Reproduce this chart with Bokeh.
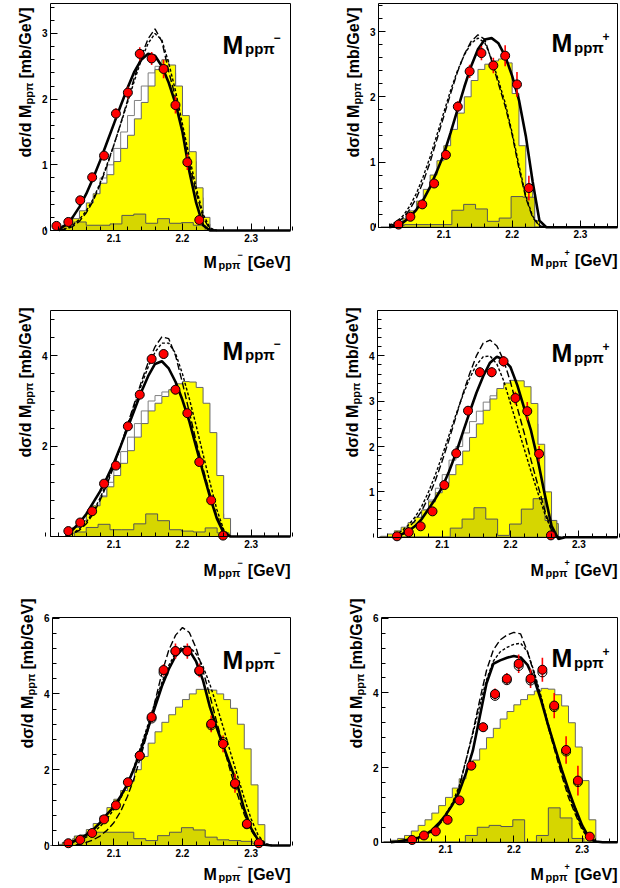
import math
import numpy as np
from bokeh.plotting import figure
from bokeh.layouts import column, row
from bokeh.models import FixedTicker, Label, LinearAxis
from bokeh.embed import file_html
from bokeh.resources import INLINE

FONT = "Liberation Sans"
YELLOW = "#ffff00"
OLIVE = "#d6d600"

# ---------------- shared data binning (GeV) ----------------
DATA_EDGES = [2.0078, 2.0251, 2.0425, 2.0598, 2.0771, 2.0945, 2.1118, 2.1291, 2.1465, 2.1638,
              2.1811, 2.1985, 2.2158, 2.2331, 2.2505, 2.2678, 2.2851, 2.3025, 2.3198, 2.3371]
DATA_X = [2.0165, 2.0338, 2.0511, 2.0685, 2.0858, 2.1031, 2.1205, 2.1378, 2.1551, 2.1725,
          2.1898, 2.2071, 2.2245, 2.2418, 2.2591, 2.2765, 2.2938, 2.3112]
X_TICKS = [2.1, 2.2, 2.3]

# ---------------- panel 1 : M_pp pi-  (row 1) ----------------
P1_CURVE_X0 = 2.02
P1_SOLID = [0.02, 0.08, 0.2, 0.36, 0.56, 0.8, 1.06, 1.34, 1.62, 1.9, 2.17, 2.42, 2.6, 2.69, 2.66, 2.5, 2.25, 1.93, 1.5, 0.9, 0.42, 0.08, 0.0, 0.0]
P1_DASHED = [0.0, 0.02, 0.06, 0.14, 0.27, 0.45, 0.7, 0.98, 1.3, 1.63, 1.98, 2.33, 2.65, 2.92, 3.07, 2.88, 2.42, 2.02, 1.5, 1.03, 0.58, 0.2, 0.02, 0.0]
P1_DOTTED = [0.0, 0.03, 0.08, 0.17, 0.3, 0.48, 0.72, 1.0, 1.3, 1.62, 1.95, 2.28, 2.6, 2.85, 3.0, 2.9, 2.55, 2.12, 1.62, 1.12, 0.65, 0.25, 0.04, 0.0]
P1_YEL_X0 = 2.02
P1_YEL = [0.02, 0.08, 0.18, 0.3, 0.42, 0.56, 0.72, 0.85, 1.05, 1.25, 1.45, 1.7, 1.95, 2.2, 2.45, 2.6, 2.52, 2.2, 1.75, 1.2, 0.65, 0.2]
P1_H2_X0 = 2.02
P1_H2 = [0.0, 0.04, 0.1, 0.2, 0.33, 0.5, 0.8, 1.0, 1.25, 1.5, 1.75, 1.98, 2.2, 2.4, 2.5, 2.5, 2.4, 2.1, 1.6, 1.05, 0.5, 0.1]
P1_OLIVE = [0.0, 0.08, 0.13, 0.08, 0.08, 0.1, 0.23, 0.25, 0.11, 0.18, 0.11, 0.12, 0.08, 0.0]
P1_PT_K0 = 0
P1_PTS = [0.07, 0.13, 0.46, 0.81, 1.14, 1.78, 2.10, 2.69, 2.62, 2.46, 1.91, 1.04, 0.16]
P1_ERR = [0.03, 0.03, 0.05, 0.06, 0.07, 0.08, 0.09, 0.1, 0.1, 0.14, 0.13, 0.12, 0.05]

# ---------------- panel 2 : M_pp pi+  (row 1) ----------------
P2_CURVE_X0 = 2.02
P2_SOLID = [0.0, 0.02, 0.07, 0.15, 0.27, 0.42, 0.62, 0.86, 1.12, 1.45, 1.8, 2.15, 2.47, 2.73, 2.88, 2.9, 2.82, 2.62, 2.32, 1.95, 1.4, 0.7, 0.1, 0.0]
P2_DASHED = [0.02, 0.06, 0.14, 0.27, 0.45, 0.7, 1.0, 1.35, 1.7, 2.05, 2.38, 2.65, 2.85, 2.95, 2.88, 2.55, 2.2, 1.85, 1.42, 0.9, 0.45, 0.15, 0.02, 0.0]
P2_DOTTED = [0.03, 0.08, 0.17, 0.32, 0.52, 0.78, 1.08, 1.42, 1.76, 2.1, 2.4, 2.64, 2.82, 2.9, 2.83, 2.58, 2.25, 1.9, 1.45, 0.95, 0.48, 0.17, 0.03, 0.0]
P2_YEL_X0 = 2.02
P2_YEL = [0.0, 0.05, 0.13, 0.25, 0.4, 0.58, 0.8, 1.02, 1.25, 1.5, 1.75, 2.0, 2.25, 2.42, 2.5, 2.55, 2.58, 2.52, 2.05, 1.25, 0.55, 0.1]
P2_OLIVE = [0.0, 0.03, 0.04, 0.04, 0.04, 0.04, 0.26, 0.35, 0.28, 0.09, 0.14, 0.47, 0.46, 0.0]
P2_PT_K0 = 1
P2_PTS = [0.04, 0.16, 0.35, 0.67, 1.11, 1.85, 2.39, 2.67, 2.48, 2.63, 2.19, 0.60]
P2_ERR = [0.02, 0.03, 0.04, 0.05, 0.07, 0.08, 0.1, 0.11, 0.12, 0.16, 0.19, 0.19]

# ---------------- panel 3 : M_pp pi-  (row 2) ----------------
P3_CURVE_X0 = 2.03
P3_SOLID = [0.05, 0.15, 0.3, 0.5, 0.75, 1.0, 1.3, 1.62, 2.0, 2.4, 2.8, 3.2, 3.55, 3.82, 3.88, 3.72, 3.42, 3.02, 2.55, 1.98, 1.42, 0.88, 0.4, 0.08, 0.0]
P3_DASHED = [0.02, 0.05, 0.14, 0.28, 0.5, 0.8, 1.15, 1.55, 2.0, 2.48, 2.95, 3.42, 3.85, 4.2, 4.42, 4.38, 4.0, 3.4, 2.75, 2.1, 1.5, 0.95, 0.45, 0.12, 0.0]
P3_DOTTED = [0.03, 0.07, 0.17, 0.32, 0.55, 0.85, 1.2, 1.58, 2.0, 2.45, 2.9, 3.35, 3.75, 4.08, 4.28, 4.28, 4.05, 3.6, 3.05, 2.45, 1.82, 1.2, 0.6, 0.15, 0.0]
P3_YEL_X0 = 2.02
P3_YEL = [0.0, 0.08, 0.2, 0.35, 0.5, 0.68, 0.88, 1.1, 1.35, 1.62, 1.9, 2.2, 2.5, 2.78, 2.95, 3.1, 3.25, 3.38, 3.43, 3.42, 3.3, 2.95, 2.3, 1.35, 0.4]
P3_H2_X0 = 2.02
P3_H2 = [0.0, 0.06, 0.16, 0.3, 0.46, 0.66, 0.9, 1.2, 1.55, 1.88, 2.2, 2.5, 2.78, 3.0, 3.12, 3.2, 3.22, 3.2, 3.1, 2.9, 2.5, 1.9, 1.2, 0.5, 0.1]
P3_OLIVE = [0.0, 0.0, 0.1, 0.2, 0.27, 0.15, 0.15, 0.28, 0.5, 0.35, 0.15, 0.12, 0.1, 0.19, 0.08, 0.0]
P3_PT_K0 = 1
P3_PTS = [0.12, 0.31, 0.56, 1.17, 1.57, 2.44, 3.14, 3.93, 4.04, 3.25, 2.73, 1.65, 0.80, 0.02]
P3_ERR = [0.03, 0.04, 0.05, 0.06, 0.07, 0.08, 0.09, 0.1, 0.1, 0.1, 0.1, 0.09, 0.07, 0.03]

# ---------------- panel 4 : M_pp pi+  (row 2) ----------------
P4_CURVE_X0 = 2.03
P4_SOLID = [0.02, 0.06, 0.13, 0.24, 0.4, 0.62, 0.85, 1.1, 1.45, 1.85, 2.3, 2.75, 3.18, 3.55, 3.85, 3.98, 3.92, 3.75, 3.35, 2.85, 2.35, 1.7, 0.95, 0.25, -0.04, 0.0]
P4_DASHED = [0.03, 0.1, 0.2, 0.36, 0.58, 0.88, 1.25, 1.68, 2.15, 2.65, 3.15, 3.6, 4.0, 4.28, 4.35, 4.22, 3.9, 3.42, 2.85, 2.3, 1.7, 1.15, 0.6, 0.15, 0.0, 0.0]
P4_DOTTED = [0.05, 0.13, 0.26, 0.44, 0.68, 1.0, 1.38, 1.8, 2.25, 2.7, 3.12, 3.5, 3.8, 3.98, 4.0, 3.82, 3.45, 2.95, 2.45, 1.95, 1.45, 0.98, 0.52, 0.15, 0.0, 0.0]
P4_YEL_X0 = 2.01
P4_YEL = [0.02, 0.07, 0.14, 0.22, 0.32, 0.44, 0.6, 0.78, 0.98, 1.18, 1.38, 1.6, 1.9, 2.2, 2.5, 2.8, 3.05, 3.28, 3.4, 3.46, 3.45, 3.32, 2.95, 2.05, 1.0, 0.3]
P4_H2_X0 = 2.01
P4_H2 = [0.01, 0.05, 0.1, 0.18, 0.28, 0.42, 0.6, 0.82, 1.08, 1.38, 1.7, 2.0, 2.3, 2.55, 2.78, 2.98, 3.12, 3.2, 3.22, 3.2, 3.1, 2.9, 2.5, 1.8, 0.9, 0.25]
P4_OLIVE = [0.0, 0.0, 0.0, 0.0, 0.0, 0.0, 0.2, 0.4, 0.65, 0.4, 0.04, 0.29, 0.62, 0.85, 0.37, 0.0]
P4_PT_K0 = 1
P4_PTS = [0.02, 0.11, 0.24, 0.57, 1.15, 1.85, 2.79, 3.64, 3.64, 3.88, 3.07, 2.78, 1.84, 0.04]
P4_ERR = [0.02, 0.03, 0.04, 0.05, 0.07, 0.08, 0.1, 0.11, 0.11, 0.12, 0.14, 0.2, 0.17, 0.03]

# ---------------- panel 5 : M_pp pi-  (row 3) ----------------
P5_CURVE_X0 = 2.03
P5_SOLID = [0.05, 0.1, 0.18, 0.28, 0.42, 0.6, 0.82, 1.02, 1.3, 1.62, 2.05, 2.55, 3.1, 3.65, 4.2, 4.65, 5.0, 5.18, 5.15, 4.85, 4.35, 3.65, 3.1, 2.6, 2.1, 1.6, 0.95, 0.45, 0.15, 0.02, 0.0]
P5_DASHED = [0.0, 0.0, 0.03, 0.08, 0.15, 0.25, 0.4, 0.6, 0.9, 1.3, 1.8, 2.4, 3.05, 3.8, 4.55, 5.15, 5.55, 5.75, 5.62, 5.2, 4.6, 3.95, 3.25, 2.6, 1.95, 1.35, 0.82, 0.4, 0.12, 0.02, 0.0]
P5_DOTTED = [0.04, 0.08, 0.14, 0.22, 0.34, 0.5, 0.7, 0.95, 1.25, 1.62, 2.1, 2.65, 3.2, 3.78, 4.3, 4.75, 5.08, 5.25, 5.25, 5.05, 4.72, 4.25, 3.68, 3.08, 2.45, 1.85, 1.25, 0.7, 0.28, 0.06, 0.0]
P5_YEL_X0 = 2.02
P5_YEL = [0.03, 0.1, 0.18, 0.28, 0.42, 0.58, 0.78, 1.0, 1.22, 1.45, 1.7, 2.0, 2.35, 2.7, 3.0, 3.25, 3.45, 3.65, 3.85, 4.0, 4.12, 4.12, 4.1, 4.0, 3.85, 3.62, 3.2, 2.55, 1.6, 0.55]
P5_OLIVE = [0.0, 0.08, 0.25, 0.35, 0.35, 0.35, 0.35, 0.18, 0.13, 0.26, 0.35, 0.47, 0.41, 0.22, 0.15, 0.13, 0.11, 0.05, 0.0]
P5_PT_K0 = 1
P5_PTS = [0.06, 0.15, 0.33, 0.69, 1.06, 1.67, 2.37, 3.39, 4.63, 5.13, 5.13, 4.62, 3.21, 2.68, 1.64, 0.57, 0.06]
P5_ERR = [0.03, 0.04, 0.05, 0.06, 0.08, 0.1, 0.12, 0.14, 0.15, 0.2, 0.2, 0.18, 0.22, 0.22, 0.25, 0.1, 0.03]
P5_OPEN_K0 = 7
P5_OPEN = [2.37, 3.35, 4.56, 5.12, 5.12, 4.6, 3.17, 2.73, 1.62, 0.56]

# ---------------- panel 6 : M_pp pi+  (row 3) ----------------
P6_CURVE_X0 = 2.02
P6_SOLID = [0.0, 0.02, 0.05, 0.08, 0.12, 0.2, 0.32, 0.5, 0.72, 1.0, 1.35, 1.85, 2.45, 3.35, 4.25, 4.78, 4.87, 4.94, 4.99, 4.95, 4.75, 4.35, 3.8, 3.15, 2.55, 1.95, 1.4, 0.9, 0.45, 0.12, 0.02, 0.0]
P6_DASHED = [0.0, 0.01, 0.03, 0.05, 0.1, 0.17, 0.28, 0.45, 0.68, 1.0, 1.45, 2.2, 2.95, 3.8, 4.6, 5.15, 5.42, 5.55, 5.62, 5.58, 5.1, 4.5, 3.85, 3.1, 2.45, 1.8, 1.2, 0.75, 0.33, 0.08, 0.0, 0.0]
P6_DOTTED = [0.0, 0.02, 0.04, 0.06, 0.12, 0.2, 0.32, 0.5, 0.74, 1.05, 1.5, 2.2, 2.9, 3.65, 4.35, 4.85, 5.1, 5.22, 5.3, 5.33, 5.1, 4.55, 3.9, 3.2, 2.55, 1.9, 1.3, 0.8, 0.38, 0.1, 0.0, 0.0]
P6_YEL_X0 = 2.01
P6_YEL = [0.01, 0.05, 0.1, 0.18, 0.3, 0.45, 0.6, 0.78, 0.98, 1.2, 1.45, 1.7, 1.95, 2.2, 2.5, 2.8, 3.05, 3.3, 3.5, 3.68, 3.82, 3.95, 4.05, 4.12, 4.1, 3.95, 3.65, 3.2, 2.55, 1.65, 0.6]
P6_OLIVE = [0.0, 0.0, 0.0, 0.0, 0.0, 0.0, 0.0, 0.18, 0.4, 0.45, 0.42, 0.6, 0.0, 0.18, 0.92, 0.65, 0.1, 0.0, 0.0]
P6_PT_K0 = 2
P6_PTS = [0.06, 0.18, 0.29, 0.60, 1.12, 2.05, 3.08, 3.97, 4.38, 4.78, 4.38, 4.62, 3.66, 2.47, 1.65, 0.15]
P6_ERR = [0.03, 0.04, 0.05, 0.06, 0.08, 0.1, 0.12, 0.15, 0.15, 0.25, 0.25, 0.32, 0.34, 0.37, 0.4, 0.05]
P6_OPEN_K0 = 9
P6_OPEN = [3.92, 4.34, 4.72, 4.33, 4.55, 3.62, 2.43, 1.61]

# ---------------- layout (page pixels) ----------------
# fig: page box of the figure; cal: pixel calibration (x of 2.1 GeV, px per GeV, y of zero, px per unit)
# vis: left, right, top of the drawn frame box
PANELS = [
    dict(col=0, fig=(0, 0, 310, 290), cal=(113.3, 686.7, 230.0, 65.67), vis=(50, 290, 3),
         yt=[0, 1, 2, 3], ymt=0.2, charge="\u2212", x0=P1_CURVE_X0, solid=P1_SOLID, dashed=P1_DASHED, dotted=P1_DOTTED,
         yx0=P1_YEL_X0, yel=P1_YEL, hx0=P1_H2_X0, h2=P1_H2, olive=P1_OLIVE, k0=P1_PT_K0, pts=P1_PTS, err=P1_ERR,
         ok0=None, opens=None, ystart=157, xlab=262),
    dict(col=1, fig=(310, 0, 310, 290), cal=(443.3, 683.3, 226.7, 65.2), vis=(378, 617, 3),
         yt=[0, 1, 2, 3], ymt=0.2, charge="+", x0=P2_CURVE_X0, solid=P2_SOLID, dashed=P2_DASHED, dotted=P2_DOTTED,
         yx0=P2_YEL_X0, yel=P2_YEL, hx0=None, h2=None, olive=P2_OLIVE, k0=P2_PT_K0, pts=P2_PTS, err=P2_ERR,
         ok0=None, opens=None, ystart=157, xlab=260),
    dict(col=0, fig=(0, 290, 310, 290), cal=(113.3, 686.7, 536.0, 45.17), vis=(50, 290, 310),
         yt=[2, 4], ymt=0.4, charge="\u2212", x0=P3_CURVE_X0, solid=P3_SOLID, dashed=P3_DASHED, dotted=P3_DOTTED,
         yx0=P3_YEL_X0, yel=P3_YEL, hx0=P3_H2_X0, h2=P3_H2, olive=P3_OLIVE, k0=P3_PT_K0, pts=P3_PTS, err=P3_ERR,
         ok0=None, opens=None, ystart=457, xlab=570),
    dict(col=1, fig=(310, 290, 310, 290), cal=(441.7, 683.3, 536.7, 45.33), vis=(377, 617, 310),
         yt=[1, 2, 3, 4], ymt=0.2, charge="+", x0=P4_CURVE_X0, solid=P4_SOLID, dashed=P4_DASHED, dotted=P4_DOTTED,
         yx0=P4_YEL_X0, yel=P4_YEL, hx0=P4_H2_X0, h2=P4_H2, olive=P4_OLIVE, k0=P4_PT_K0, pts=P4_PTS, err=P4_ERR,
         ok0=None, opens=None, ystart=457, xlab=570),
    dict(col=0, fig=(0, 580, 310, 308), cal=(113.3, 686.7, 845.0, 37.9), vis=(52, 290, 617),
         yt=[0, 2, 4, 6], ymt=0.4, charge="\u2212", x0=P5_CURVE_X0, solid=P5_SOLID, dashed=P5_DASHED, dotted=P5_DOTTED,
         yx0=P5_YEL_X0, yel=P5_YEL, hx0=None, h2=None, olive=P5_OLIVE, k0=P5_PT_K0, pts=P5_PTS, err=P5_ERR,
         ok0=P5_OPEN_K0, opens=P5_OPEN, ystart=748, xlab=874),
    dict(col=1, fig=(310, 580, 310, 308), cal=(445.0, 683.3, 841.7, 37.33), vis=(381, 617, 617),
         yt=[0, 2, 4, 6], ymt=0.4, charge="+", x0=P6_CURVE_X0, solid=P6_SOLID, dashed=P6_DASHED, dotted=P6_DOTTED,
         yx0=P6_YEL_X0, yel=P6_YEL, hx0=None, h2=None, olive=P6_OLIVE, k0=P6_PT_K0, pts=P6_PTS, err=P6_ERR,
         ok0=P6_OPEN_K0, opens=P6_OPEN, ystart=748, xlab=874),
]


def grid(start, n, step=0.01):
    return [round(start + step * i, 4) for i in range(n)]


def step_outline(edges, vals):
    xs, ys = [edges[0]], [0.0]
    for i, v in enumerate(vals):
        xs += [edges[i], edges[i + 1]]
        ys += [v, v]
    xs.append(edges[len(vals)])
    ys.append(0.0)
    return xs, ys


def style_axis(ax):
    ax.major_label_text_font = FONT
    ax.major_label_text_font_style = "bold"
    ax.major_label_text_font_size = "10px"
    ax.major_label_text_color = "black"
    ax.major_tick_in = 7
    ax.major_tick_out = 0
    ax.minor_tick_in = 4
    ax.minor_tick_out = 0
    ax.axis_line_color = "black"
    ax.axis_line_width = 1
    ax.major_tick_line_color = "black"
    ax.minor_tick_line_color = "black"
    ax.major_label_standoff = 3


def make_panel(cfg):
    fx, fy, w, h = cfg["fig"]
    a, s, b0, k = cfg["cal"]

    def gx(px):
        return 2.1 + (px - a) / s

    def gy(py):
        return (b0 - py) / k

    xr = (gx(fx), gx(fx + w))
    yr = (gy(fy + h), gy(fy))
    L, R, T = cfg["vis"]
    xv0, xv1, yv1 = gx(L), gx(R), gy(T)

    p = figure(width=w, height=h, x_range=xr, y_range=yr, output_backend="svg",
               toolbar_location=None, title=None, min_border=0,
               min_border_left=0, min_border_right=0, min_border_top=0, min_border_bottom=0)
    p.xgrid.visible = False
    p.ygrid.visible = False
    p.background_fill_color = "white"
    p.border_fill_color = "white"
    p.outline_line_color = None

    # axes drawn at the frame box (fixed locations inside the canvas)
    xa = p.xaxis[0]
    xa.fixed_location = 0
    xa.bounds = (xv0, xv1)
    xa.ticker = FixedTicker(ticks=X_TICKS, minor_ticks=list(np.round(np.arange(2.0, 2.37, 0.02), 2)))
    style_axis(xa)
    ya = p.yaxis[0]
    ya.fixed_location = xv0
    ya.bounds = (0, yv1)
    ya.ticker = FixedTicker(ticks=cfg["yt"], minor_ticks=list(np.round(np.arange(0, yv1, cfg["ymt"]), 2)))
    style_axis(ya)
    top_ax = LinearAxis(fixed_location=yv1, bounds=(xv0, xv1), ticker=FixedTicker(ticks=[], minor_ticks=[]))
    style_axis(top_ax)
    top_ax.major_label_text_font_size = "0px"
    p.add_layout(top_ax, "above")
    right_ax = LinearAxis(fixed_location=xv1, bounds=(0, yv1), ticker=FixedTicker(ticks=[], minor_ticks=[]))
    style_axis(right_ax)
    right_ax.major_label_text_font_size = "0px"
    p.add_layout(right_ax, "right")

    # unfilled model histogram (only visible where above the yellow one)
    if cfg["h2"] is not None:
        ed = grid(cfg["hx0"], len(cfg["h2"]) + 1)
        xs, ys = step_outline(ed, cfg["h2"])
        p.line(xs, ys, line_color="#808080", line_width=1)
    # yellow simulation histogram
    ed = grid(cfg["yx0"], len(cfg["yel"]) + 1)
    xs, ys = step_outline(ed, cfg["yel"])
    p.patch(xs, ys, fill_color=YELLOW, line_color="#666666", line_width=1)
    # olive contribution histogram (data binning)
    xs, ys = step_outline(DATA_EDGES, cfg["olive"])
    p.patch(xs, ys, fill_color=OLIVE, line_color="#555555", line_width=1)

    # model curves
    cx = grid(cfg["x0"], len(cfg["solid"]))
    p.line(cx, cfg["dotted"], line_color="black", line_width=1.4, line_dash="3 2")
    p.line(cx, cfg["dashed"], line_color="black", line_width=1.4, line_dash="7 3")
    p.line(cx + [xv1], cfg["solid"] + [0.0], line_color="black", line_width=2.6)

    # data
    k0 = cfg["k0"]
    xd = DATA_X[k0:k0 + len(cfg["pts"])]
    yd = cfg["pts"]
    er = cfg["err"]
    p.segment(x0=xd, y0=[u - v for u, v in zip(yd, er)], x1=xd, y1=[u + v for u, v in zip(yd, er)],
              line_color="#ff0000", line_width=1.6)
    if cfg["opens"] is not None:
        xo = DATA_X[cfg["ok0"]:cfg["ok0"] + len(cfg["opens"])]
        p.scatter(xo, cfg["opens"], marker="circle", size=9, fill_color=None, line_color="black", line_width=1)
    p.scatter(xd, yd, marker="circle", size=9, fill_color="#ff0000", line_color="black", line_width=1)

    # ---- texts (positions given in page pixels) ----
    def put(px, py, text, size, align="left", angle=0.0):
        p.add_layout(Label(x=gx(px), y=gy(py), text=text, text_font=FONT, text_font_size=f"{size}px",
                           text_font_style="bold", text_align=align, text_baseline="alphabetic",
                           angle=angle, text_color="black"))

    ch = cfg["charge"]
    # panel label
    ml = R - 68 if cfg["col"] == 0 else R - 66
    pb = (b0 - 186) if cfg["col"] == 0 else (b0 - 184)
    put(ml, pb, "M", 25)
    put(ml + 22.5, pb + 4, "pp\u03c0", 15)
    put(ml + 51, pb - 7, ch, 12)
    # x-axis title
    xb = cfg["xlab"]
    xr_end = R
    put(xr_end, xb, "[GeV]", 16, align="right")
    put(xr_end - 87, xb, "M", 16)
    put(xr_end - 72, xb + 2, "pp\u03c0", 11)
    put(xr_end - 53, xb - 8, ch, 9)
    # y-axis title (rotated)
    s0 = cfg["ystart"]
    yb = L - 25
    put(yb, s0, "d\u03c3/d M", 16, angle=math.pi / 2)
    put(yb + 3, s0 - 53, "pp\u03c0", 11, angle=math.pi / 2)
    put(yb, s0 - 79, "[mb/GeV]", 16, angle=math.pi / 2)
    return p


figs = [make_panel(c) for c in PANELS]
layout = column(row(figs[0], figs[1]), row(figs[2], figs[3]), row(figs[4], figs[5]))
open("out.html", "w").write(file_html(layout, INLINE))
